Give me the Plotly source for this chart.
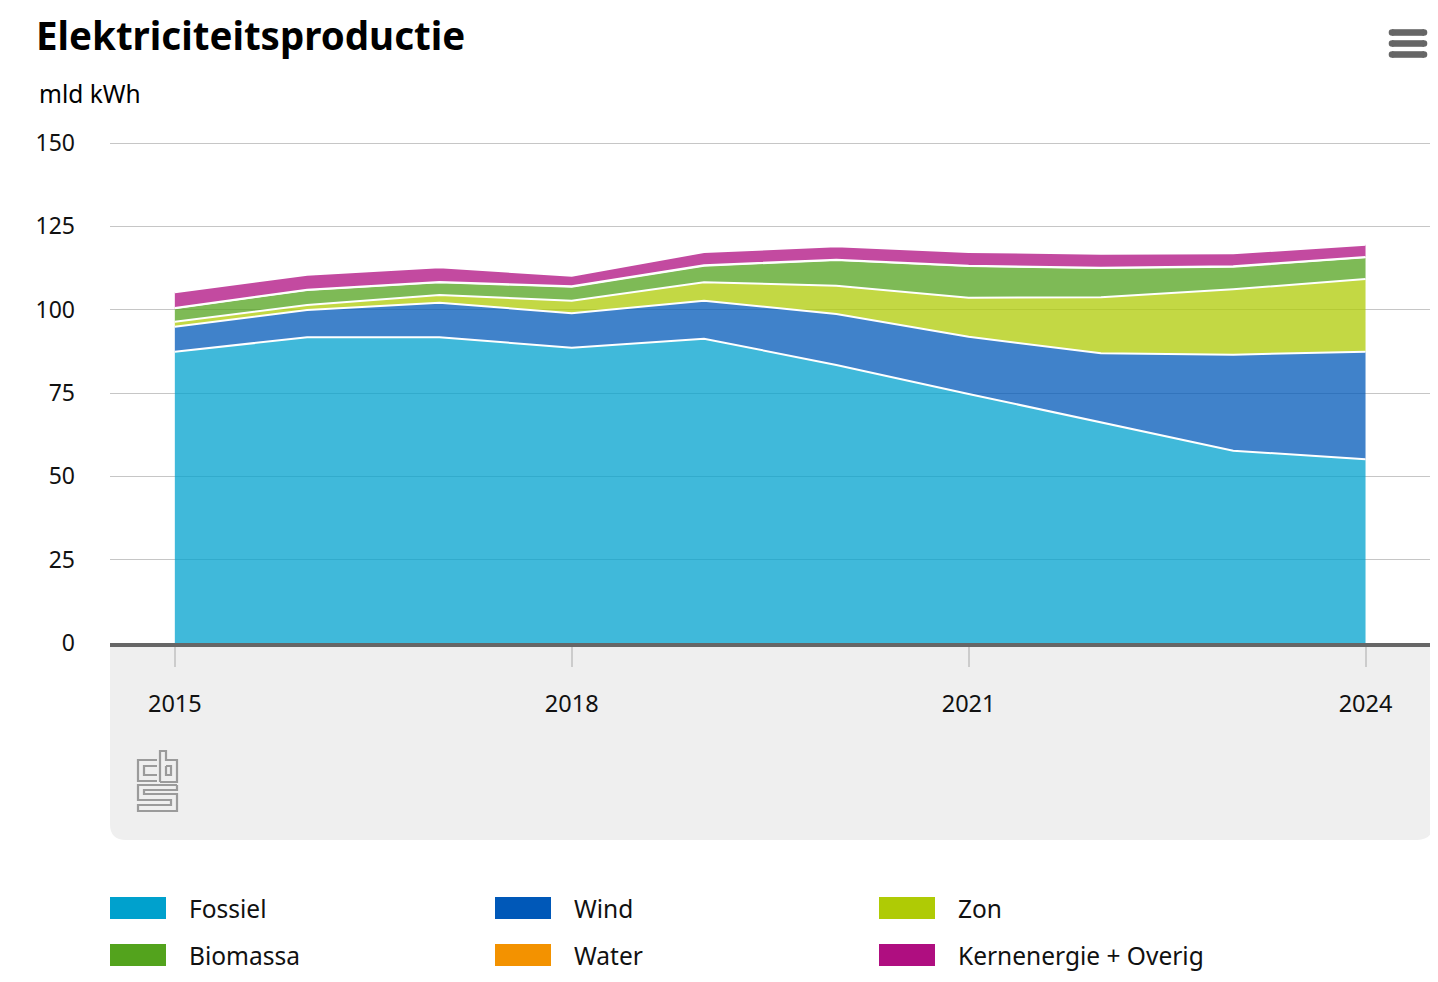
import plotly.graph_objects as go

years = [2015, 2016, 2017, 2018, 2019, 2020, 2021, 2022, 2023, 2024]
fossiel = [87.4, 91.7, 91.7, 88.6, 91.3, 83.4, 74.7, 66.1, 57.7, 55.1]
wind = [7.5, 8.2, 10.4, 10.3, 11.4, 15.3, 17.2, 20.8, 28.8, 32.3]
zon = [1.5, 1.5, 2.3, 3.8, 5.5, 8.5, 11.7, 16.8, 19.6, 21.8]
biomassa = [4.0, 4.5, 3.8, 4.2, 5.0, 7.7, 9.5, 8.8, 6.8, 6.5]
water = [0.1, 0.1, 0.1, 0.1, 0.1, 0.1, 0.1, 0.1, 0.1, 0.1]
kern_overig = [4.7, 4.5, 4.4, 3.2, 4.0, 4.0, 4.1, 4.2, 3.9, 3.7]

series_names = ["Fossiel", "Wind", "Zon", "Biomassa", "Water", "Kernenergie + Overig"]
series_values = [fossiel, wind, zon, biomassa, water, kern_overig]
series_colors = ["#00a1cd", "#0058b8", "#afcb05", "#53a31d", "#f39200", "#af0e80"]

y_ticks = [0, 25, 50, 75, 100, 125, 150]
x_ticks = [2015, 2018, 2021, 2024]

title_text = "Elektriciteitsproductie"
unit_text = "mld kWh"

FONT = "Noto Sans"
OFF = 8  # page body margin
W, H = 1438 - OFF, 982 - OFF
Y_MAX = 150.9
# plot area in reference pixel coords: x 110..1433, y 140..643 (150 at y=143)
PL, PR, PT, PB = 110, 1433, 140, 643
L = PL - OFF
T = PT - OFF
R = W - (PR - OFF)
B = H - (PB - OFF)
PW = PR - PL
PH = PB - PT


def px(x):
    return (x - PL) / PW


def py(y):
    return (PB - y) / PH


def rgba(hexc, a):
    h = hexc.lstrip("#")
    r, g, b = int(h[0:2], 16), int(h[2:4], 16), int(h[4:6], 16)
    return f"rgba({r},{g},{b},{a})"


fig = go.Figure()
for name, vals, col in zip(series_names, series_values, series_colors):
    fig.add_trace(go.Scatter(
        x=years, y=vals, name=name, mode="lines", stackgroup="one",
        line=dict(color="white", width=2),
        fillcolor=rgba(col, 0.75), showlegend=False,
    ))

shapes = []
# grey panel below the x axis with rounded bottom corners
x0, x1 = px(110), px(1433)
y0, y1 = py(645), py(840)
rx, ry = 16 / PW, 16 / PH
shapes.append(dict(
    type="path", xref="paper", yref="paper", layer="below",
    path=(f"M {x0},{y0} L {x1},{y0} L {x1},{y1 + ry} Q {x1},{y1} {x1 - rx},{y1} "
          f"L {x0 + rx},{y1} Q {x0},{y1} {x0},{y1 + ry} Z"),
    fillcolor="#efefef", line=dict(width=0),
))

# hamburger menu icon
for yc in [32.5, 43.5, 54.5]:
    shapes.append(dict(type="rect", xref="paper", yref="paper",
                       x0=px(1392), x1=px(1424), y0=py(yc + 3.3), y1=py(yc - 3.3),
                       fillcolor="#666666", line=dict(width=0)))
    for xc in [1392, 1424]:
        shapes.append(dict(type="circle", xref="paper", yref="paper",
                           x0=px(xc - 3.3), x1=px(xc + 3.3), y0=py(yc + 3.3), y1=py(yc - 3.3),
                           fillcolor="#666666", line=dict(width=0)))


# CBS logo (line drawing)
def pth(points):
    return "M " + " L ".join(f"{px(a)},{py(b)}" for a, b in points)


logo_lines = [
    [(157, 760), (138, 760), (138, 781), (157, 781)],
    [(157, 766), (144, 766), (144, 775), (157, 775)],
    [(160, 782), (160, 751), (166, 751), (166, 760), (177, 760), (177, 782), (160, 782)],
    [(166, 766), (171, 766), (171, 775), (166, 775), (166, 766)],
    [(177, 785), (138, 785), (138, 800), (171, 800), (171, 805), (138, 805), (138, 811),
     (177, 811), (177, 794), (144, 794), (144, 790), (177, 790), (177, 785)],
]
for pts in logo_lines:
    shapes.append(dict(type="path", xref="paper", yref="paper", path=pth(pts),
                       line=dict(color="#9b9b9b", width=2.2)))

annotations = [
    dict(text=f"<b>{title_text}</b>", x=px(34), y=py(35), xref="paper", yref="paper",
         xanchor="left", yanchor="middle", showarrow=False,
         font=dict(family=FONT, size=38.5, color="#000000")),
    dict(text=unit_text, x=px(37), y=py(93), xref="paper", yref="paper",
         xanchor="left", yanchor="middle", showarrow=False,
         font=dict(family=FONT, size=24.5, color="#000000")),
]

# custom legend
leg_cols = [110, 495, 879]
leg_rows = [908, 955]
for i, (name, col) in enumerate(zip(series_names, series_colors)):
    cx = leg_cols[i % 3]
    cy = leg_rows[i // 3]
    shapes.append(dict(type="rect", xref="paper", yref="paper",
                       x0=px(cx), x1=px(cx + 56), y0=py(cy + 11), y1=py(cy - 11),
                       fillcolor=col, line=dict(width=0)))
    annotations.append(dict(text=name, x=px(cx + 77), y=py(cy), xref="paper", yref="paper",
                            xanchor="left", yanchor="middle", showarrow=False,
                            font=dict(family=FONT, size=24.5, color="#111111")))

fig.update_layout(
    width=W, height=H,
    margin=dict(l=L, r=R, t=T, b=B, pad=0),
    paper_bgcolor="white", plot_bgcolor="white",
    font=dict(family=FONT, size=21, color="#222222"),
    shapes=shapes, annotations=annotations,
    showlegend=False,
    xaxis=dict(range=[2014.51, 2024.51], tickvals=x_ticks, ticktext=[str(v) for v in x_ticks],
               showgrid=False, zeroline=False, showline=True, linecolor="#666666", linewidth=4,
               ticks="outside", ticklen=20, tickwidth=2, tickcolor="#cccccc",
               ticklabelstandoff=17, tickfont=dict(family=FONT, size=23.5, color="#111111"),
               fixedrange=True),
    yaxis=dict(range=[0, Y_MAX], tickvals=y_ticks, showgrid=True, gridcolor="#c6c6c6", gridwidth=1,
               zeroline=False, showline=False, ticks="", ticklabelstandoff=34,
               tickfont=dict(family=FONT, size=23, color="#111111"), fixedrange=True),
)

fig.write_html("out.html", config={"displayModeBar": False})
